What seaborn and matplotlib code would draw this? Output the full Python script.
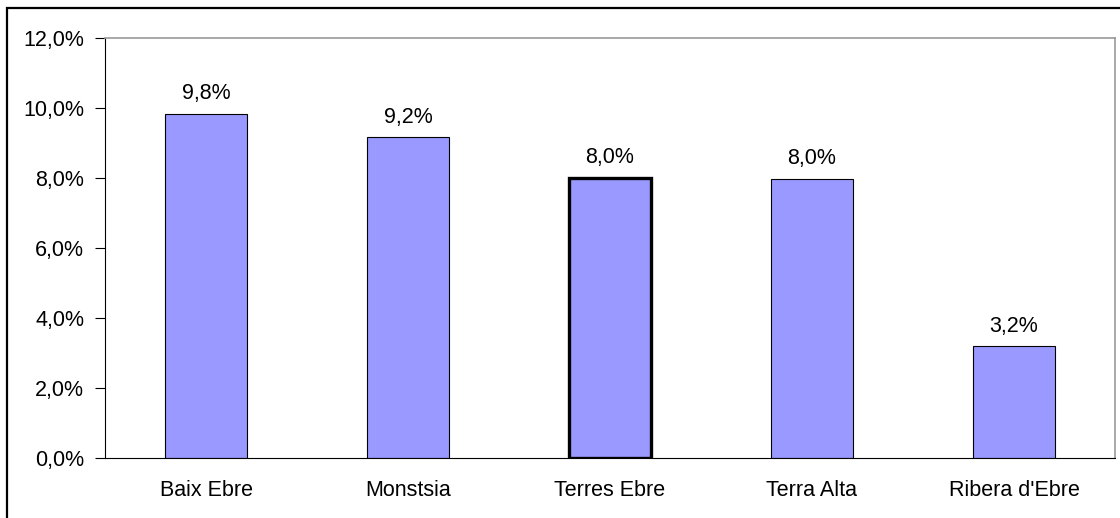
"""
Gràfic de barres: percentatges per comarca (Terres de l'Ebre).
"""

import matplotlib
matplotlib.use("Agg")
import matplotlib.pyplot as plt
import matplotlib.patches as mpatches
import numpy as np
import pandas as pd
import seaborn as sns

# Dades
comarques = ["Baix Ebre", "Monstsia", "Terres Ebre", "Terra Alta", "Ribera d'Ebre"]
valors = [9.84, 9.16, 8.0, 7.97, 3.19]
etiquetes = ["9,8%", "9,2%", "8,0%", "8,0%", "3,2%"]
y_ticks = [0, 2, 4, 6, 8, 10, 12]
y_tick_labels = ["0,0%", "2,0%", "4,0%", "6,0%", "8,0%", "10,0%", "12,0%"]
destacada = "Terres Ebre"

sns.set_style("white")
plt.rcParams["font.family"] = ["Liberation Sans", "DejaVu Sans"]
plt.rcParams["text.color"] = "black"
plt.rcParams["xtick.color"] = "black"
plt.rcParams["ytick.color"] = "black"

df = pd.DataFrame({"comarca": comarques, "valor": valors})

fig = plt.figure(figsize=(11.2, 5.18), dpi=100)
ax = fig.add_axes([105 / 1120, 60 / 518, 1010 / 1120, 420 / 518])

sns.barplot(data=df, x="comarca", y="valor", color="#9999FF", saturation=1,
            width=0.41, edgecolor="black", linewidth=0.8, ax=ax)

# Vora gruixuda per a la barra destacada
for patch, nom in zip(ax.patches, comarques):
    if nom == destacada:
        patch.set_linewidth(2.4)

# Etiquetes de valor
fs = 15.5
for i, (v, txt) in enumerate(zip(valors, etiquetes)):
    ax.annotate(txt, (i, v), xytext=(0, 7), textcoords="offset points",
                ha="center", va="bottom", fontsize=fs, color="black")

# Eixos
ax.set_xlim(-0.5, len(comarques) - 0.5)
ax.set_ylim(0, 12)
ax.set_yticks(y_ticks)
ax.set_yticklabels(y_tick_labels, fontsize=fs)
ax.set_xticks(np.arange(len(comarques)))
ax.set_xticklabels(comarques, fontsize=fs)
ax.set_xticks(np.arange(len(comarques) + 1) - 0.5, minor=True)
ax.tick_params(axis="x", which="major", length=0, pad=16)
ax.tick_params(axis="x", which="minor", length=7, width=0.8, color="black",
               direction="out")
ax.tick_params(axis="y", length=7, width=0.8, color="black", direction="out",
               pad=8, left=True)
ax.set_xlabel("")
ax.set_ylabel("")

for side in ["left", "bottom"]:
    ax.spines[side].set_color("black")
    ax.spines[side].set_linewidth(0.8)
for side in ["top", "right"]:
    ax.spines[side].set_visible(True)
    ax.spines[side].set_color("#999999")
    ax.spines[side].set_linewidth(1.2)

# Marc exterior (retallat a la dreta i a baix)
marc = mpatches.Rectangle((7 / 1120, -0.1), 1.2, 1.1 - 8 / 518,
                          transform=fig.transFigure, fill=False,
                          edgecolor="black", linewidth=1.6, clip_on=False)
fig.patches.append(marc)

fig.savefig("out.png", dpi=100)
